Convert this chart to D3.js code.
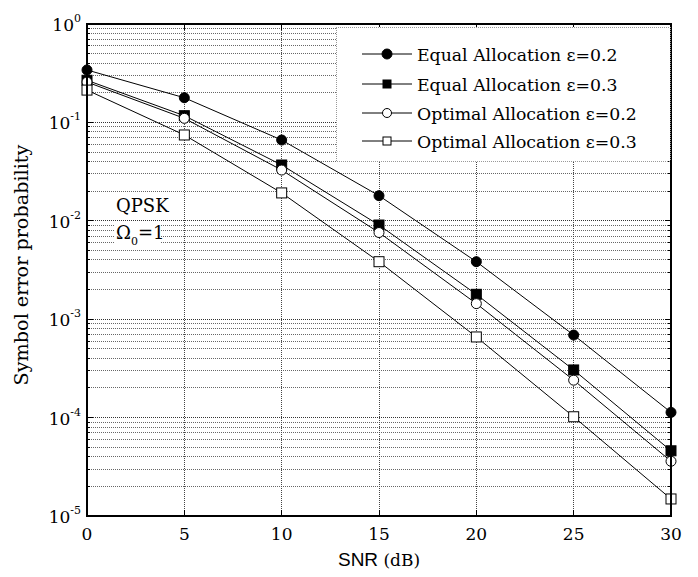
<!DOCTYPE html>
<html><head><meta charset="utf-8">
<script src="https://cdn.jsdelivr.net/npm/d3@7"></script>
<style>body{margin:0;background:#fff}</style>
</head><body>
<svg id="c" width="698" height="577"></svg>
<script>
const snr = [0, 5, 10, 15, 20, 25, 30];
const equal02 = [0.341, 0.178, 0.0662, 0.0180, 0.00384, 6.9e-4, 1.13e-4];
const equal03 = [0.268, 0.117, 0.0369, 0.00906, 0.00179, 3.05e-4, 4.6e-5];
const optimal02 = [0.257, 0.110, 0.0328, 0.0076, 0.00144, 2.4e-4, 3.6e-5];
const optimal03 = [0.213, 0.0745, 0.0192, 0.00384, 6.6e-4, 1.02e-4, 1.49e-5];
const seriesNames = ["Equal Allocation \u03b5=0.2", "Equal Allocation \u03b5=0.3", "Optimal Allocation \u03b5=0.2", "Optimal Allocation \u03b5=0.3"];
const xTicks = [0, 5, 10, 15, 20, 25, 30];
const yExps = [0, -1, -2, -3, -4, -5];

const series = [
  {name: seriesNames[0], vals: equal02, marker: "circle", fill: "#000"},
  {name: seriesNames[1], vals: equal03, marker: "square", fill: "#000"},
  {name: seriesNames[2], vals: optimal02, marker: "circle", fill: "#fff"},
  {name: seriesNames[3], vals: optimal03, marker: "square", fill: "#fff"}
];

const svg = d3.select("#c");
const L = 87, R = 671, T = 24, B = 516;
const x = d3.scaleLinear().domain([0, 30]).range([L, R]);
const y = d3.scaleLog().domain([1e-5, 1]).range([B, T]);
const serif = "'DejaVu Serif', 'Liberation Serif', serif";

const g = svg.append("g");
const minor = [];
for (let e = -5; e < 0; e++) for (let m = 2; m <= 9; m++) minor.push(m * Math.pow(10, e));
g.selectAll(".minor").data(minor).enter().append("line")
  .attr("x1", L).attr("x2", R).attr("y1", d => y(d)).attr("y2", d => y(d))
  .attr("stroke", "#666").attr("stroke-width", 1).attr("stroke-dasharray", "1,1").attr("shape-rendering", "crispEdges");
g.selectAll(".major").data(yExps.map(e => Math.pow(10, e))).enter().append("line")
  .attr("x1", L).attr("x2", R).attr("y1", d => y(d)).attr("y2", d => y(d))
  .attr("stroke", "#333").attr("stroke-width", 1).attr("stroke-dasharray", "1,1").attr("shape-rendering", "crispEdges");
g.selectAll(".vg").data(xTicks).enter().append("line")
  .attr("x1", d => x(d)).attr("x2", d => x(d)).attr("y1", T).attr("y2", B)
  .attr("stroke", "#444").attr("stroke-width", 1).attr("stroke-dasharray", "1,1").attr("shape-rendering", "crispEdges");

const ticks = svg.append("g");
minor.concat(yExps.map(e => Math.pow(10, e))).forEach(d => {
  const isMaj = Math.abs(Math.log10(d) - Math.round(Math.log10(d))) < 1e-9;
  const len = isMaj ? 6 : 3;
  ticks.append("line").attr("x1", L).attr("x2", L + len).attr("y1", y(d)).attr("y2", y(d)).attr("stroke", "#000").attr("shape-rendering", "crispEdges");
  ticks.append("line").attr("x1", R).attr("x2", R - len).attr("y1", y(d)).attr("y2", y(d)).attr("stroke", "#000").attr("shape-rendering", "crispEdges");
});
xTicks.forEach(d => {
  ticks.append("line").attr("x1", x(d)).attr("x2", x(d)).attr("y1", B).attr("y2", B - 6).attr("stroke", "#000").attr("shape-rendering", "crispEdges");
  ticks.append("line").attr("x1", x(d)).attr("x2", x(d)).attr("y1", T).attr("y2", T + 6).attr("stroke", "#000").attr("shape-rendering", "crispEdges");
});

// QPSK annotation with white background
const ann = svg.append("g");
ann.append("rect").attr("x", 114).attr("y", 195).attr("width", 60).attr("height", 22).attr("fill", "#fff");
ann.append("rect").attr("x", 114).attr("y", 221).attr("width", 46).attr("height", 25).attr("fill", "#fff");
ann.append("text").attr("x", 116).attr("y", 212).attr("font-family", serif).attr("font-size", 18).text("QPSK");
const om = ann.append("text").attr("x", 116).attr("y", 239).attr("font-family", serif).attr("font-size", 18);
om.append("tspan").text("\u03a9");
om.append("tspan").attr("font-size", 11).attr("dy", 6).text("0");
om.append("tspan").attr("dy", -6).text("=1");

const line = d3.line().x((d, i) => x(snr[i])).y(d => y(d));
series.forEach(s => {
  svg.append("path").datum(s.vals).attr("d", line).attr("fill", "none").attr("stroke", "#000").attr("stroke-width", 1);
});
function drawMarker(sel, s, cx, cy) {
  if (s.marker === "circle") {
    sel.append("circle").attr("cx", cx).attr("cy", cy).attr("r", 5)
      .attr("fill", s.fill).attr("stroke", "#000").attr("stroke-width", 1);
  } else {
    const h = 5;
    sel.append("rect").attr("x", cx - h).attr("y", cy - h).attr("width", 2 * h).attr("height", 2 * h)
      .attr("fill", s.fill).attr("stroke", "#000").attr("stroke-width", 1);
  }
}
series.forEach(s => {
  const mg = svg.append("g");
  s.vals.forEach((v, i) => drawMarker(mg, s, x(snr[i]), y(v)));
});

svg.append("rect").attr("x", L).attr("y", T).attr("width", R - L).attr("height", B - T)
  .attr("fill", "none").attr("stroke", "#000").attr("stroke-width", 1.2).attr("shape-rendering", "crispEdges");

// legend
const lg = svg.append("g");
lg.append("rect").attr("x", 336).attr("y", 27).attr("width", R - 336 - 1).attr("height", 134)
  .attr("fill", "#fff").attr("stroke", "#999").attr("stroke-dasharray", "1,1").attr("shape-rendering", "crispEdges");
const rowsY = [54, 84, 113, 141];
series.forEach((s, i) => {
  const yy = rowsY[i];
  lg.append("line").attr("x1", 362).attr("x2", 412).attr("y1", yy).attr("y2", yy).attr("stroke", "#000");
  if (s.marker === "circle") {
    lg.append("circle").attr("cx", 387).attr("cy", yy).attr("r", i === 0 ? 5 : 4.5).attr("fill", s.fill).attr("stroke", "#000");
  } else {
    lg.append("rect").attr("x", 383).attr("y", yy - 4).attr("width", 8).attr("height", 8).attr("fill", s.fill).attr("stroke", "#000");
  }
  lg.append("text").attr("x", 417).attr("y", yy + 6.5).attr("font-family", serif).attr("font-size", 17.3).text(s.name);
});

yExps.forEach(e => {
  const t = svg.append("text").attr("x", L - 6).attr("y", y(Math.pow(10, e)) + 7)
    .attr("text-anchor", "end").attr("font-family", serif).attr("font-size", 17);
  t.append("tspan").text("10");
  t.append("tspan").attr("font-size", 11).attr("dy", -9).text(String(e));
});
xTicks.forEach(d => {
  svg.append("text").attr("x", x(d)).attr("y", B + 24).attr("text-anchor", "middle")
    .attr("font-family", serif).attr("font-size", 17).text(d);
});
const xl = svg.append("text").attr("x", 379).attr("y", 566).attr("text-anchor", "middle").attr("font-size", 19);
xl.append("tspan").attr("font-family", "'Liberation Sans', Arial, sans-serif").text("SNR ");
xl.append("tspan").attr("font-family", serif).attr("font-size", 17).text("(dB)");
svg.append("text").attr("transform", "translate(28,265) rotate(-90)").attr("text-anchor", "middle")
  .attr("font-family", serif).attr("font-size", 19.2).text("Symbol error probability");
</script>
</body></html>
